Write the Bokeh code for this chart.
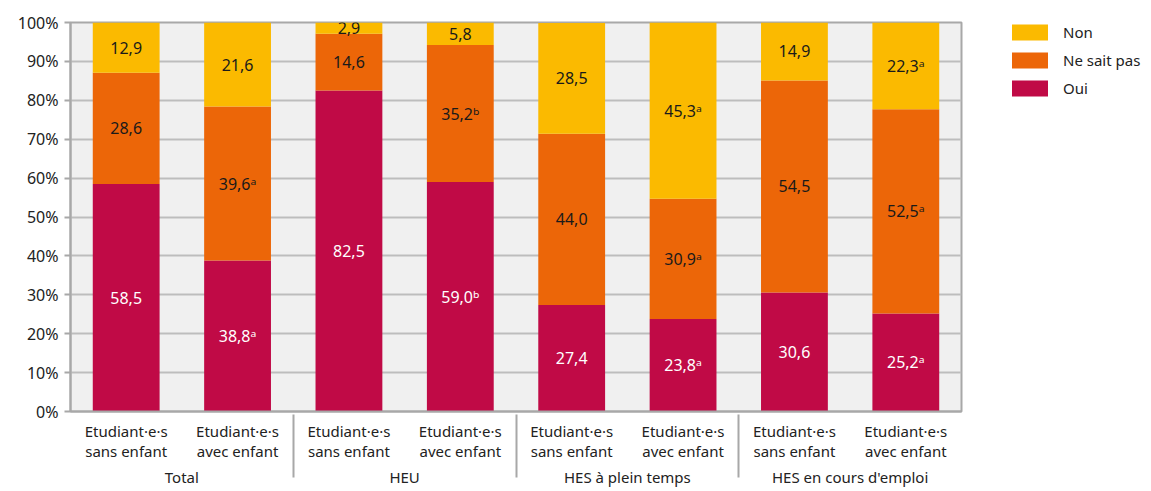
from bokeh.plotting import figure
from bokeh.layouts import row
from bokeh.models import (ColumnDataSource, FactorRange, Legend, LegendItem,
                          PrintfTickFormatter, FixedTicker)
from bokeh.core.properties import value
from bokeh.embed import file_html
from bokeh.resources import INLINE

groups = ["Total", "HEU", "HES à plein temps", "HES en cours d'emploi"]
subgroups = ["Etudiant·e·s\nsans enfant", "Etudiant·e·s\navec enfant"]
series = ["Oui", "Ne sait pas", "Non"]
oui = [58.5, 38.8, 82.5, 59.0, 27.4, 23.8, 30.6, 25.2]
nsp = [28.6, 39.6, 14.6, 35.2, 44.0, 30.9, 54.5, 52.5]
non = [12.9, 21.6, 2.9, 5.8, 28.5, 45.3, 14.9, 22.3]
oui_sup = ["", "a", "", "b", "", "a", "", "a"]
nsp_sup = ["", "a", "", "b", "", "a", "", "a"]
non_sup = ["", "", "", "", "", "a", "", "a"]
colors = {"Oui": "#C00A46", "Ne sait pas": "#EC6608", "Non": "#FBBA00"}
y_ticks = [0, 10, 20, 30, 40, 50, 60, 70, 80, 90, 100]

FONT = "Noto Sans"
SUP = {"": "", "a": "\u1d43", "b": "\u1d47"}
GRAY = "#A8A8A8"

factors = [(g, s) for g in groups for s in subgroups]
src = ColumnDataSource(dict(x=factors, Oui=oui, NSP=nsp, Non=non))

p = figure(x_range=FactorRange(*factors, group_padding=0, range_padding=0),
           y_range=(0, 100), width=963, height=491,
           output_backend="svg", toolbar_location=None,
           min_border_left=70, min_border_right=2, min_border_top=22, min_border_bottom=80)
p.background_fill_color = "#F0F0F0"
p.outline_line_color = GRAY
p.outline_line_width = 2

renderers = p.vbar_stack(["Oui", "NSP", "Non"], x="x", width=0.6, source=src,
                         color=[colors["Oui"], colors["Ne sait pas"], colors["Non"]],
                         line_color=None)

# value labels
lx, ly, lt, lc = [], [], [], []
for i, f in enumerate(factors):
    base = 0.0
    for vals, sups, col in ((oui, oui_sup, "white"), (nsp, nsp_sup, "#1A1A1A"), (non, non_sup, "#1A1A1A")):
        v = vals[i]
        lx.append(f)
        ly.append(base + v / 2)
        lt.append(f"{v:.1f}".replace(".", ",") + SUP[sups[i]])
        lc.append(col)
        base += v
lsrc = ColumnDataSource(dict(x=lx, y=ly, text=lt, color=lc))
p.text(x="x", y="y", text="text", source=lsrc, text_align="center", text_baseline="middle",
       text_font=value(FONT), text_font_size="16px", text_color="color")

# grid
p.xgrid.grid_line_color = None
p.ygrid.ticker = FixedTicker(ticks=y_ticks)
p.ygrid.grid_line_color = "#BDBDBD"
p.ygrid.grid_line_width = 2

# y axis
p.yaxis.ticker = FixedTicker(ticks=y_ticks)
p.yaxis.formatter = PrintfTickFormatter(format="%d%%")
p.yaxis.axis_line_color = GRAY
p.yaxis.axis_line_width = 2
p.yaxis.major_tick_line_color = GRAY
p.yaxis.major_tick_line_width = 2
p.yaxis.major_tick_out = 6
p.yaxis.major_tick_in = 0
p.yaxis.minor_tick_line_color = None
p.yaxis.major_label_text_font = FONT
p.yaxis.major_label_text_font_size = "16px"
p.yaxis.major_label_text_color = "#222222"
p.yaxis.major_label_standoff = 6

# x axis
xa = p.xaxis[0]
xa.axis_line_color = GRAY
xa.axis_line_width = 2
xa.major_tick_line_color = None
xa.minor_tick_line_color = None
xa.separator_line_color = GRAY
xa.separator_line_width = 2
xa.major_label_text_font = FONT
xa.major_label_text_font_size = "15px"
xa.major_label_text_color = "#222222"
xa.major_label_text_line_height = 1.0
xa.major_label_standoff = 3
xa.group_text_font = FONT
xa.group_text_font_size = "15px"
xa.group_text_font_style = "normal"
xa.group_text_color = "#222222"
xa.group_label_orientation = "horizontal"

# legend panel (separate figure to the right); its frame starts where the legend starts
lf = figure(width=188, height=491, output_backend="svg", toolbar_location=None,
            x_axis_type=None, y_axis_type=None,
            min_border_left=44, min_border_top=22, min_border_right=0, min_border_bottom=0)
lf.outline_line_color = None
lf.xgrid.grid_line_color = None
lf.ygrid.grid_line_color = None
# zero-height swatch renderers: they only feed the legend
lsw = {s: lf.vbar(x=[0], top=[0], width=0.001, fill_color=colors[s], line_color=None)
       for s in series}
items = [LegendItem(label=s, renderers=[lsw[s]]) for s in ["Non", "Ne sait pas", "Oui"]]
legend = Legend(items=items, location="top_left", margin=0, padding=0, spacing=8,
                glyph_width=45, glyph_height=20, label_standoff=11, label_height=20,
                label_text_font=FONT, label_text_font_size="15px", label_text_color="#222222",
                border_line_color=None, background_fill_alpha=0)
lf.add_layout(legend, "center")

layout = row(p, lf, spacing=0)
open("out.html", "w").write(file_html(layout, INLINE))
